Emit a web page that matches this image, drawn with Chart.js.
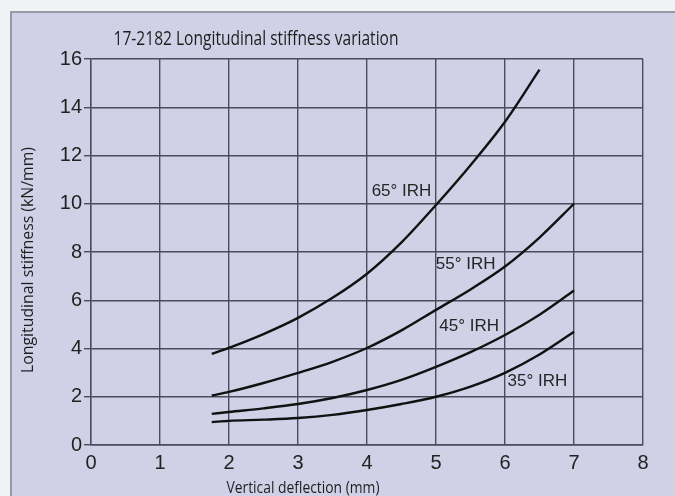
<!DOCTYPE html>
<html>
<head>
<meta charset="utf-8">
<script src="https://cdn.jsdelivr.net/npm/chart.js@4.4.1/dist/chart.umd.min.js"></script>
<style>
  html, body { margin: 0; padding: 0; background: #f1f2f4; }
  #wrap { position: relative; width: 675px; height: 496px; overflow: hidden; }
  #panel { position: absolute; left: 10px; top: 11px; width: 700px; height: 500px;
           background: #d0d0e6; border-left: 2px solid #9898aa; border-top: 2px solid #9898aa; }
  #cvg { position: absolute; left: 0; top: 0; }
</style>
</head>
<body>
<div id="wrap">
  <div id="panel"></div>
  <canvas id="cvg" width="675" height="496"></canvas>
</div>
<script>
// deflection (mm) where the curves were read
var xs65 = [1.75, 2, 2.5, 3, 3.5, 4, 4.5, 5, 5.5, 6, 6.5];
var irh65 = [3.78, 4.03, 4.6, 5.27, 6.1, 7.1, 8.4, 9.95, 11.6, 13.4, 15.56];

var xs = [1.75, 2, 2.5, 3, 3.5, 4, 4.5, 5, 5.5, 6, 6.5, 7];
var irh55 = [2.05, 2.2, 2.57, 2.99, 3.45, 4.02, 4.75, 5.6, 6.45, 7.4, 8.6, 10.0];
var irh45 = [1.29, 1.37, 1.52, 1.7, 1.95, 2.28, 2.7, 3.24, 3.85, 4.56, 5.4, 6.4];
var irh35 = [0.95, 1.0, 1.05, 1.12, 1.25, 1.45, 1.7, 2.0, 2.42, 2.99, 3.75, 4.69];

var curveNames = ['65° IRH', '55° IRH', '45° IRH', '35° IRH'];
// where each curve name sits (mm, kN/mm)
var nameX = [4.5, 5.43, 5.48, 6.47];
var nameY = [10.5, 7.5, 4.94, 2.65];

var xTicks = [0, 1, 2, 3, 4, 5, 6, 7, 8];
var yTicks = [0, 2, 4, 6, 8, 10, 12, 14, 16];

var titleText = '17-2182 Longitudinal stiffness variation';
var xTitle = 'Vertical deflection (mm)';
var yTitle = 'Longitudinal stiffness (kN/mm)';

function pts(x, y) {
  var out = [];
  for (var i = 0; i < x.length; i++) out.push({x: x[i], y: y[i]});
  return out;
}

function line(label, data) {
  return {
    label: label,
    data: data,
    showLine: true,
    borderColor: '#111',
    borderWidth: 2.4,
    pointRadius: 0,
    cubicInterpolationMode: 'monotone',
    fill: false
  };
}

// narrow humanist look: draw text squeezed to a given width
function squeezed(ctx, text, x, y, w, rot) {
  ctx.save();
  ctx.translate(x, y);
  if (rot) ctx.rotate(rot);
  var k = w / ctx.measureText(text).width;
  ctx.scale(k, 1);
  ctx.fillText(text, 0, 0);
  ctx.restore();
}

var textPlugin = {
  id: 'texts',
  afterDatasetsDraw: function(chart) {
    var ctx = chart.ctx;
    var sx = chart.scales.x, sy = chart.scales.y;
    ctx.save();
    ctx.fillStyle = '#262626';
    ctx.textAlign = 'center';
    ctx.textBaseline = 'middle';
    ctx.font = '17px "Liberation Sans", Arial, sans-serif';
    for (var i = 0; i < curveNames.length; i++) {
      ctx.fillText(curveNames[i], sx.getPixelForValue(nameX[i]), sy.getPixelForValue(nameY[i]));
    }
    ctx.fillStyle = '#1e1e1e';
    ctx.font = '20px "Open Sans", sans-serif';
    squeezed(ctx, titleText, 256, 39, 285);
    ctx.font = '16px "Open Sans", sans-serif';
    squeezed(ctx, xTitle, 303, 488, 153);
    ctx.font = '17px "Open Sans", sans-serif';
    squeezed(ctx, yTitle, 28, 260, 226, -Math.PI / 2);
    ctx.restore();
  }
};

var ctx = document.getElementById('cvg').getContext('2d');
var myChart = new Chart(ctx, {
  type: 'scatter',
  data: {
    datasets: [
      line(curveNames[0], pts(xs65, irh65)),
      line(curveNames[1], pts(xs, irh55)),
      line(curveNames[2], pts(xs, irh45)),
      line(curveNames[3], pts(xs, irh35))
    ]
  },
  options: {
    responsive: false,
    animation: false,
    layout: { padding: { left: 0, top: 59, right: 32, bottom: 21 } },
    plugins: { legend: { display: false }, tooltip: { enabled: false } },
    scales: {
      x: {
        type: 'linear', min: 0, max: 8,
        afterFit: function(s) { s.height = 30; },
        afterBuildTicks: function(s) { s.ticks = xTicks.map(function(v) { return {value: v}; }); },
        grid: { color: '#4b4b5c', lineWidth: 1.4, drawTicks: false },
        border: { color: '#4b4b5c', width: 1.4 },
        ticks: { padding: 6, color: '#222', font: { family: '"Liberation Sans", Arial, sans-serif', size: 20 } }
      },
      y: {
        type: 'linear', min: 0, max: 16,
        afterFit: function(s) { s.width = 91; },
        afterBuildTicks: function(s) { s.ticks = yTicks.map(function(v) { return {value: v}; }); },
        grid: { color: '#4b4b5c', lineWidth: 1.4, tickLength: 7 },
        border: { color: '#4b4b5c', width: 1.4 },
        ticks: { padding: 2, color: '#222', font: { family: '"Liberation Sans", Arial, sans-serif', size: 20 } }
      }
    }
  },
  plugins: [textPlugin]
});
</script>
</body>
</html>
